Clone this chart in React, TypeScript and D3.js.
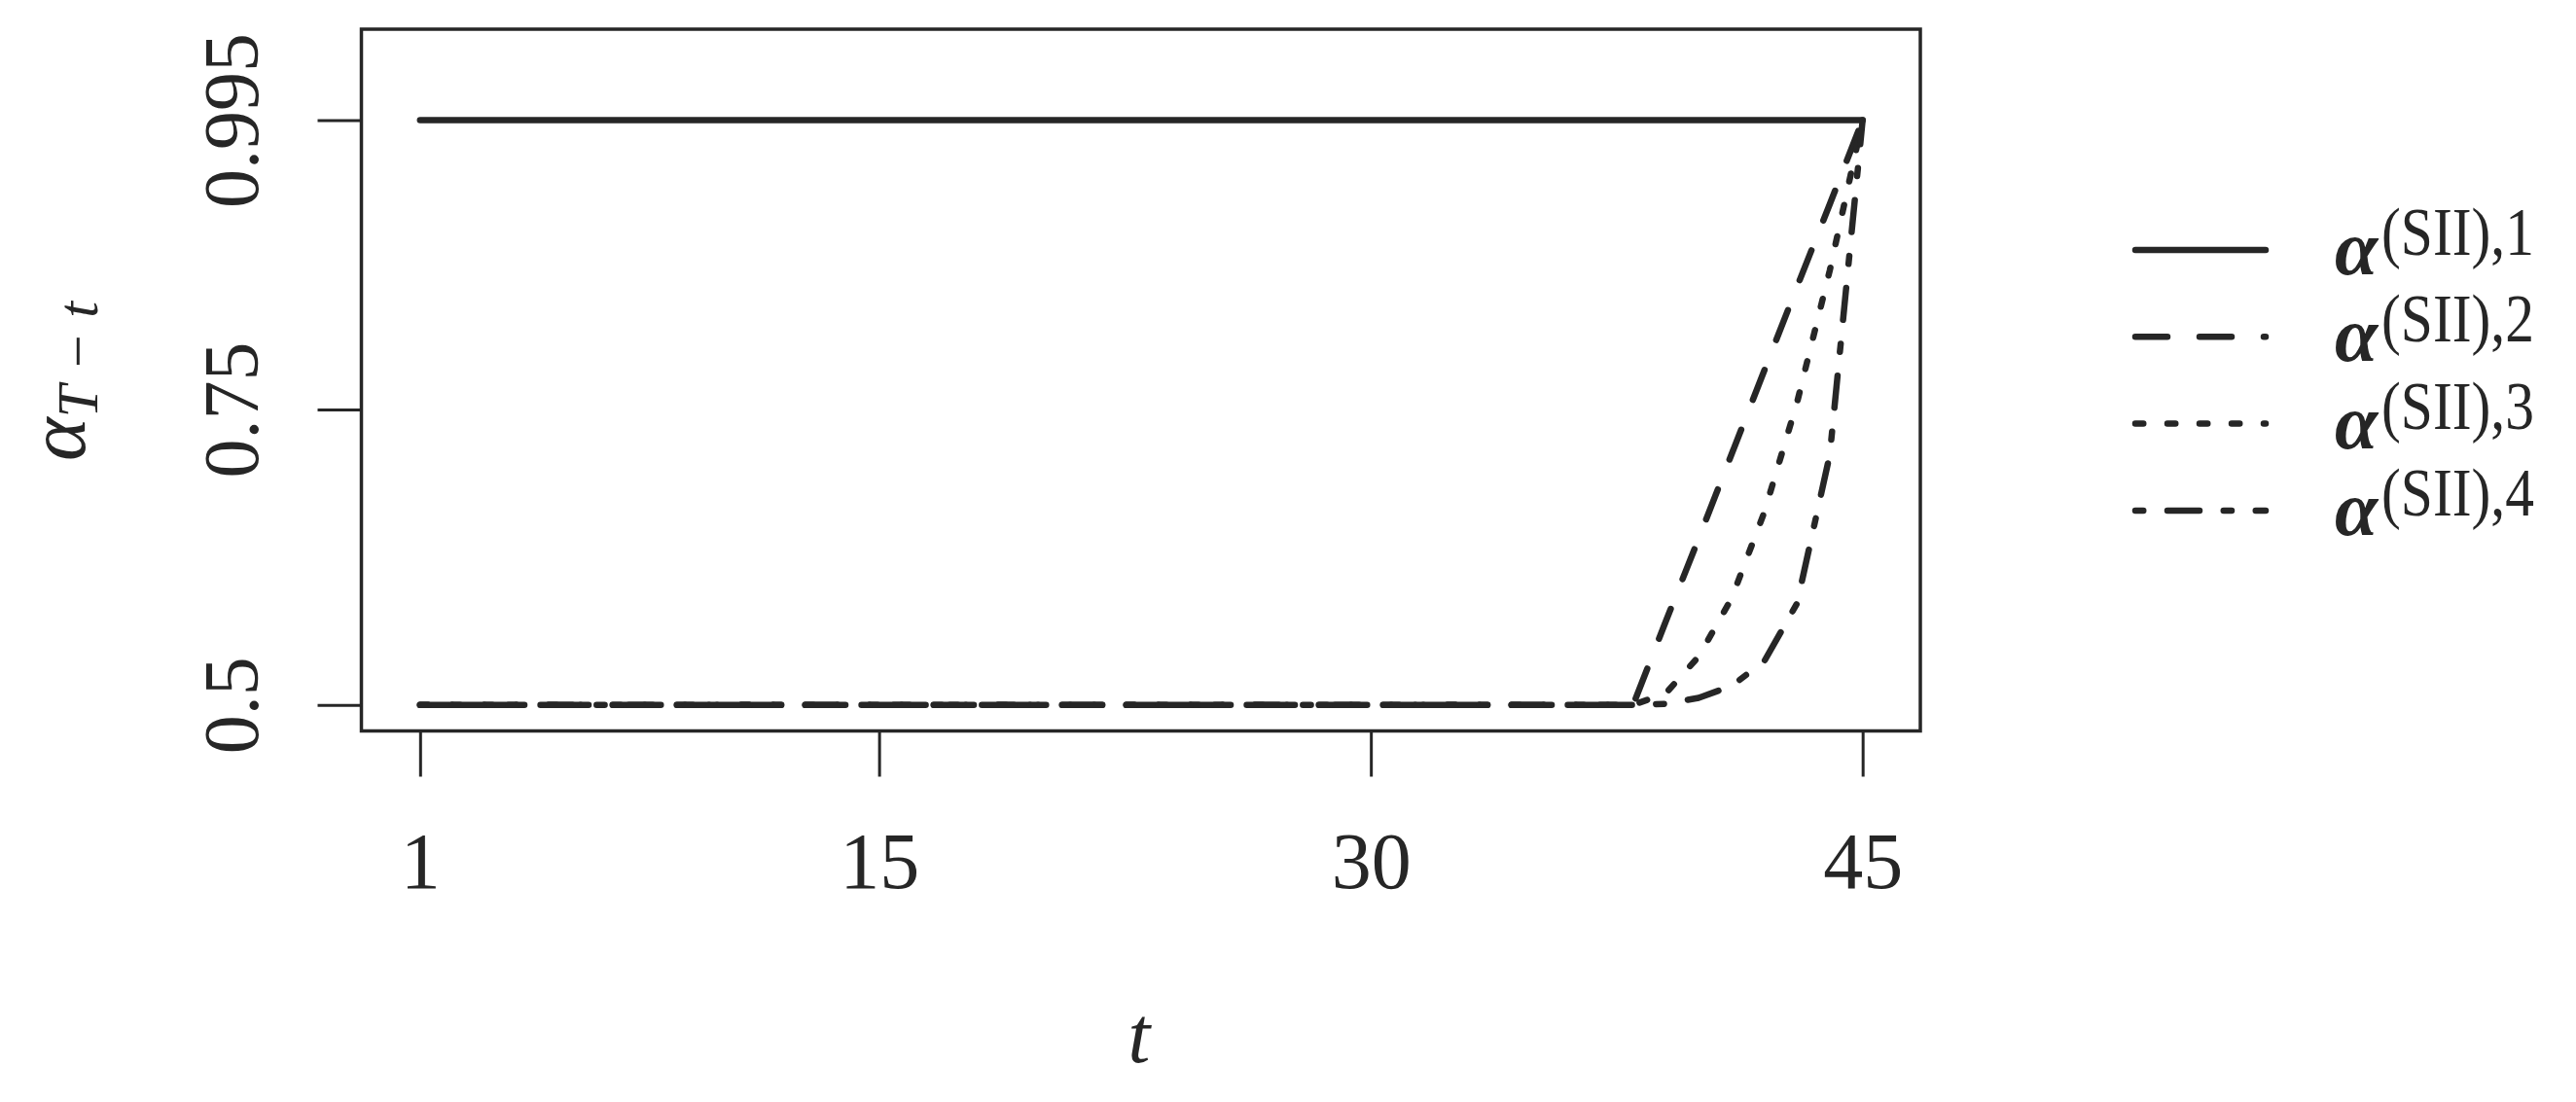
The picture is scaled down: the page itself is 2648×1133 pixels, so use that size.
import React, { useEffect, useRef } from 'react';
import * as d3 from 'd3';

// t = 1..45
const tValues = [
  1, 2, 3, 4, 5, 6, 7, 8, 9, 10, 11, 12, 13, 14, 15, 16, 17, 18, 19, 20, 21, 22, 23,
  24, 25, 26, 27, 28, 29, 30, 31, 32, 33, 34, 35, 36, 37, 38, 39, 40, 41, 42, 43, 44, 45,
];

const alpha1 = [
  0.995, 0.995, 0.995, 0.995, 0.995, 0.995, 0.995, 0.995, 0.995, 0.995, 0.995, 0.995,
  0.995, 0.995, 0.995, 0.995, 0.995, 0.995, 0.995, 0.995, 0.995, 0.995, 0.995, 0.995,
  0.995, 0.995, 0.995, 0.995, 0.995, 0.995, 0.995, 0.995, 0.995, 0.995, 0.995, 0.995,
  0.995, 0.995, 0.995, 0.995, 0.995, 0.995, 0.995, 0.995, 0.995,
];
const alpha2 = [
  0.5, 0.5, 0.5, 0.5, 0.5, 0.5, 0.5, 0.5, 0.5, 0.5, 0.5, 0.5, 0.5, 0.5, 0.5, 0.5,
  0.5, 0.5, 0.5, 0.5, 0.5, 0.5, 0.5, 0.5, 0.5, 0.5, 0.5, 0.5, 0.5, 0.5, 0.5, 0.5,
  0.5, 0.5, 0.5, 0.5, 0.5, 0.5, 0.571, 0.641, 0.712, 0.783, 0.854, 0.924, 0.995,
];
const alpha3 = [
  0.5, 0.5, 0.5, 0.5, 0.5, 0.5, 0.5, 0.5, 0.5, 0.5, 0.5, 0.5, 0.5, 0.5, 0.5, 0.5,
  0.5, 0.5, 0.5, 0.5, 0.5, 0.5, 0.5, 0.5, 0.5, 0.5, 0.5, 0.5, 0.5, 0.5, 0.5, 0.5,
  0.5, 0.5, 0.5, 0.5, 0.5, 0.5, 0.51, 0.541, 0.59, 0.663, 0.756, 0.868, 0.995,
];
const alpha4 = [
  0.5, 0.5, 0.5, 0.5, 0.5, 0.5, 0.5, 0.5, 0.5, 0.5, 0.5, 0.5, 0.5, 0.5, 0.5, 0.5,
  0.5, 0.5, 0.5, 0.5, 0.5, 0.5, 0.5, 0.5, 0.5, 0.5, 0.5, 0.5, 0.5, 0.5, 0.5, 0.5,
  0.5, 0.5, 0.5, 0.5, 0.5, 0.5, 0.501, 0.506, 0.516, 0.537, 0.586, 0.712, 0.995,
];

const seriesValues = [alpha1, alpha2, alpha3, alpha4];
const seriesNames = ['1', '2', '3', '4'];
// R lty 1..4 at this line width
const seriesDash = [null, '33,33', '8.25,24.75', '8.25,24.75,33,24.75'];

const xTicks = [1, 15, 30, 45];
const yTicks = [0.5, 0.75, 0.995];
const yTickLabels = ['0.5', '0.75', '0.995'];

const ink = '#262626';
const serif = '"Liberation Serif", "DejaVu Serif", serif';

const App = () => {
  const xAxisRef = useRef<SVGGElement>(null);
  const yAxisRef = useRef<SVGGElement>(null);

  const left = 372.5, right = 1974, top = 30, bottom = 751.5;

  const x = d3.scaleLinear().domain([-0.76, 46.76]).range([left, right]);
  const y = d3.scaleLinear().domain([0.478, 1.072]).range([bottom, top]);

  const line = d3
    .line<number>()
    .x((_, i) => x(tValues[i]))
    .y((d) => y(d));

  useEffect(() => {
    const xAxis = d3.axisBottom(x).tickValues(xTicks).tickFormat(d3.format('d')).tickSize(47);
    const gx = d3.select(xAxisRef.current);
    gx.call(xAxis as any);
    gx.select('.domain').remove();
    gx.selectAll('line').attr('stroke', ink).attr('stroke-width', 3);
    gx.selectAll('text')
      .attr('y', 913 - bottom)
      .attr('dy', null)
      .attr('fill', ink)
      .style('font-size', '82px')
      .style('font-family', serif);

    const yAxis = d3
      .axisLeft(y)
      .tickValues(yTicks)
      .tickFormat((d, i) => yTickLabels[i])
      .tickSize(46);
    const gy = d3.select(yAxisRef.current);
    gy.call(yAxis as any);
    gy.select('.domain').remove();
    gy.selectAll('line').attr('stroke', ink).attr('stroke-width', 3);
    gy.selectAll('text')
      .attr('x', null)
      .attr('dy', null)
      .attr('transform', `translate(${265 - left},0) rotate(-90)`)
      .attr('text-anchor', 'middle')
      .attr('fill', ink)
      .style('font-size', '80px')
      .style('font-family', serif);
  }, []);

  return (
    <svg
      width={2648}
      height={1133}
      style={{ position: 'absolute', left: 0, top: 0, background: '#fff' }}
    >
      <rect x={0} y={0} width={2648} height={1133} fill="#fff" />

      {seriesValues.map((vals, i) => (
        <path
          key={i}
          d={line(vals) || ''}
          fill="none"
          stroke={ink}
          strokeWidth={6.5}
          strokeLinecap="round"
          strokeLinejoin="round"
          strokeDasharray={seriesDash[i] || undefined}
        />
      ))}

      <rect
        x={left - 1}
        y={top}
        width={right - left + 1}
        height={bottom - top}
        fill="none"
        stroke={ink}
        strokeWidth={3.5}
      />

      <g ref={xAxisRef} transform={`translate(0,${bottom})`} />
      <g ref={yAxisRef} transform={`translate(${left},0)`} />

      {/* axis titles */}
      <text x={1171} y={1092} fontFamily={serif} fontStyle="italic" fontSize={82} fill={ink} textAnchor="middle">
        t
      </text>
      <text
        transform="translate(87,392) rotate(-90)"
        fontFamily={serif}
        fill={ink}
        textAnchor="middle"
      >
        <tspan fontStyle="italic" fontSize={85}>α</tspan>
        <tspan fontStyle="italic" fontSize={60} dy={13}>T − t</tspan>
      </text>

      {/* legend */}
      {seriesNames.map((name, i) => {
        const ry = 257 + i * 89.3;
        return (
          <g key={name}>
            <line
              x1={2195}
              x2={2329}
              y1={ry}
              y2={ry}
              stroke={ink}
              strokeWidth={6.5}
              strokeLinecap="round"
              strokeDasharray={seriesDash[i] || undefined}
            />
            <text y={ry + 25} fontFamily={serif} fill={ink}>
              <tspan x={2400} fontStyle="italic" fontWeight="bold" fontSize={80}>α</tspan>
              <tspan x={2448} dy={-20} fontSize={70} textLength={157} lengthAdjust="spacingAndGlyphs">
                (SII),{name}
              </tspan>
            </text>
          </g>
        );
      })}
    </svg>
  );
};

export default App;
